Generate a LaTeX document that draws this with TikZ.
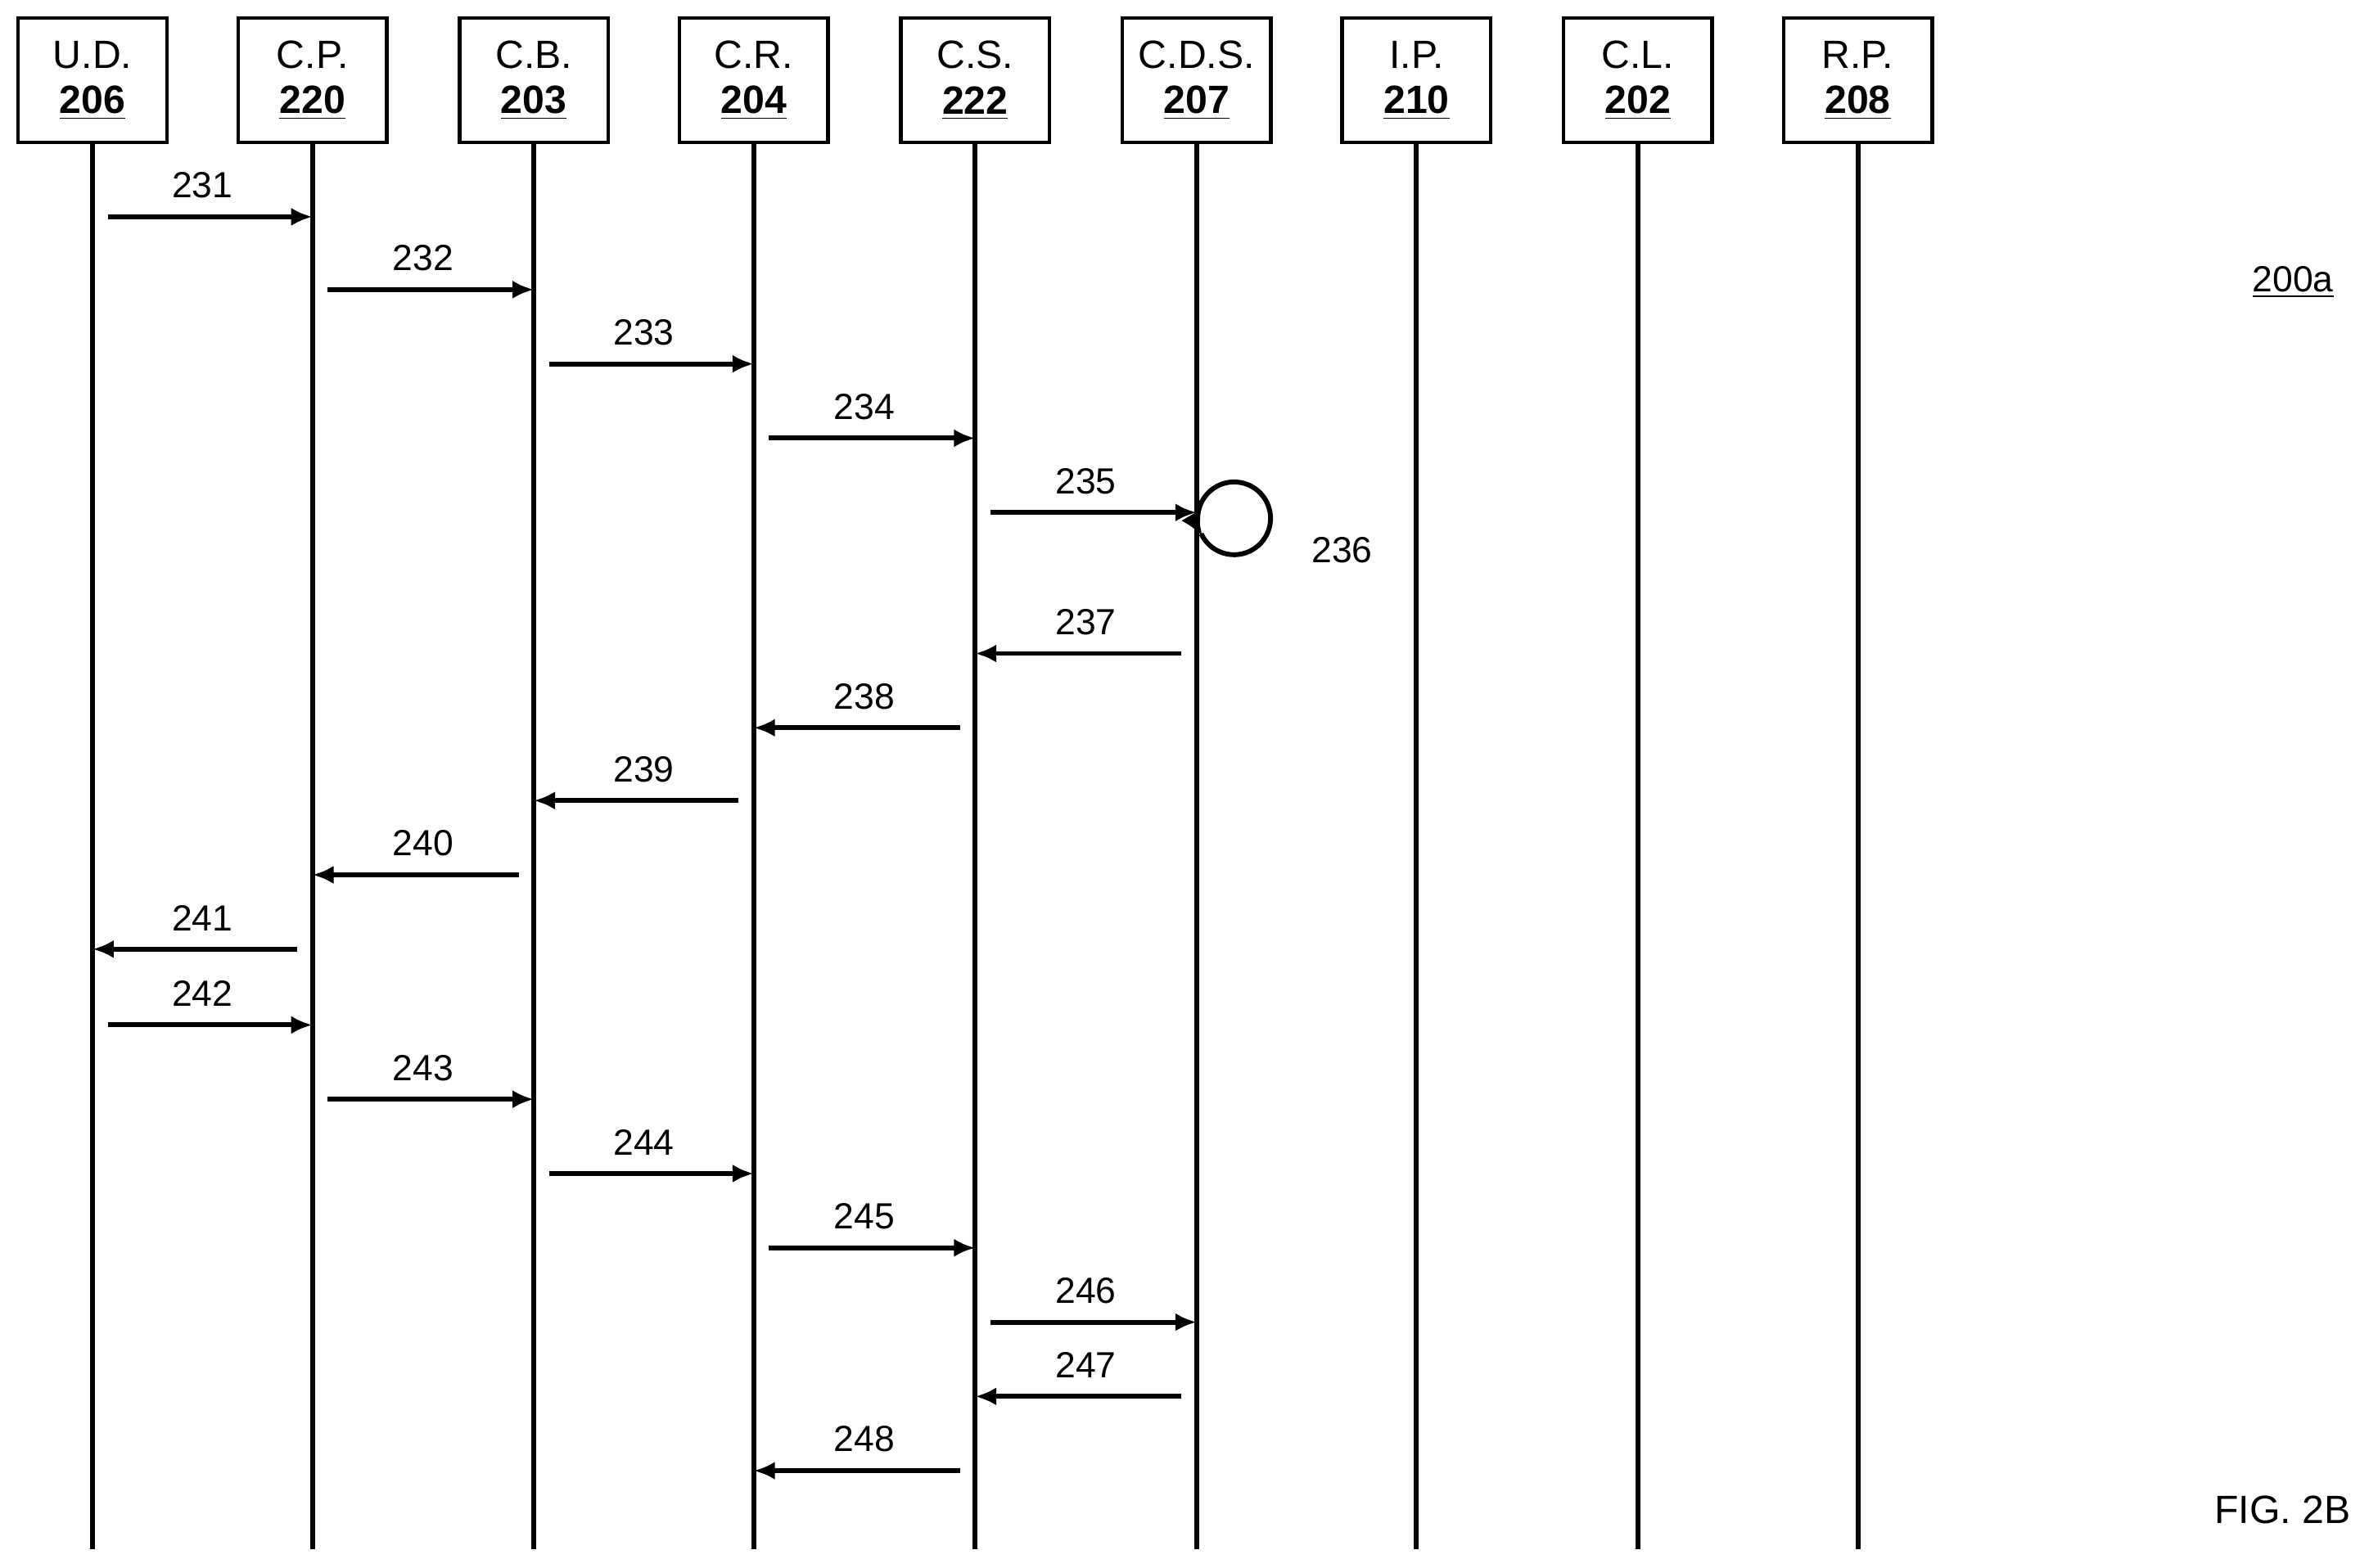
\documentclass[tikz,border=0pt]{standalone}
\usepackage{fontspec}
\setmainfont{Liberation Sans}
\usetikzlibrary{arrows.meta}
\begin{document}
\begin{tikzpicture}[x=0.5pt,y=-0.5pt,
 hdr/.style={draw,line width=1.2pt,minimum width=49pt,minimum height=41pt,inner sep=0pt,align=center,font=\fontsize{13}{16}\selectfont},
 life/.style={line width=1.6pt},
 msg/.style={line width=1.6pt,-{Latex[length=7pt,width=6pt]}},
 lbl/.style={font=\fontsize{12}{14}\selectfont,above=2pt}]
\useasboundingbox (0,0) rectangle (1568,1034);
\foreach \x/\n/\t/\num in {61/ud/U.D./206,206/cp/C.P./220,352/cb/C.B./203,497/cr/C.R./204,643/cs/C.S./222,789/cds/C.D.S./207,934/ip/I.P./210,1080/cl/C.L./202,1225/rp/R.P./208}{
 \node[hdr] (\n) at (\x,53) {\t\\[-1pt]\textbf{\underline{\num}}};
 \coordinate (\n end) at (\x,1022);
 \draw[life] (\n.south) -- (\n end);
}
\foreach \a/\b/\y/\l in {ud/cp/143/231,cp/cb/191/232,cb/cr/240/233,cr/cs/289/234,cs/cds/338/235,cds/cs/431/237,cs/cr/480/238,cr/cb/528/239,cb/cp/577/240,cp/ud/626/241,ud/cp/676/242,cp/cb/725/243,cb/cr/774/244,cr/cs/823/245,cs/cds/872/246,cds/cs/921/247,cs/cr/970/248}{
 \coordinate (s\l) at ([yshift={-\y*0.5pt+53*0.5pt}]\a.center);
 \coordinate (e\l) at ([yshift={-\y*0.5pt+53*0.5pt}]\b.center);
 \draw[msg,shorten <=5pt] (s\l) -- node[lbl] {\l} (e\l);
}
\coordinate (lp1) at (792,352);
\coordinate (lp2) at (797,395);
\draw[line width=1.6pt,-{Latex[length=8pt,width=7pt]}] (lp1) arc[start angle=155,end angle=-210,radius=24];
\node[font=\fontsize{12}{14}\selectfont] (l236) at (885,363) {236};
\node[font=\fontsize{12}{14}\selectfont] (ref) at (1512,186) {\underline{200a}};
\node[font=\fontsize{13}{16}\selectfont] (fig) at (1505,996) {FIG. 2B};
\end{tikzpicture}
\end{document}
